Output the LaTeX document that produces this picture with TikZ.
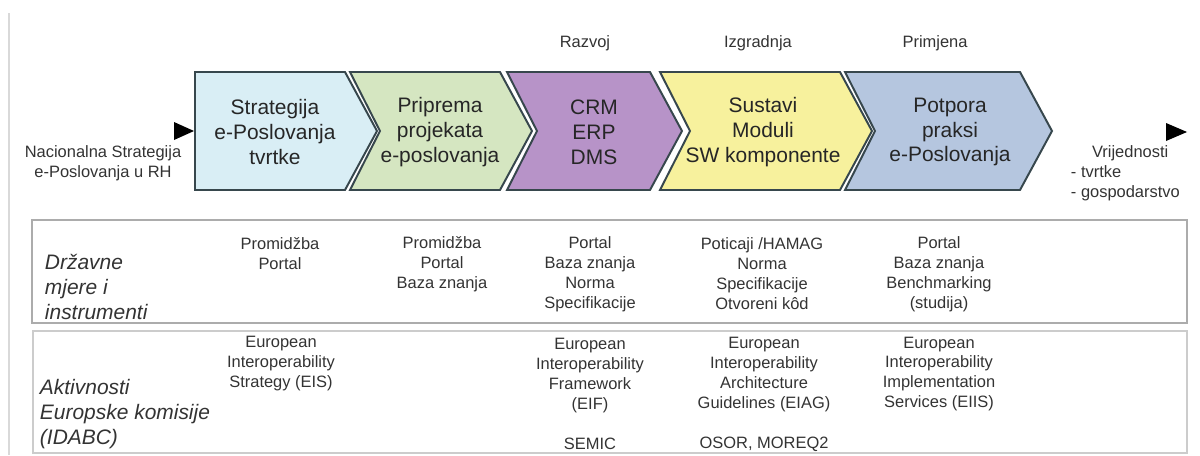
\documentclass[tikz,border=0pt]{standalone}
\usepackage{fontspec}
\setmainfont{Liberation Sans}

\definecolor{phaseblue}{HTML}{D9EEF5}
\definecolor{phasegreen}{HTML}{D5E6C1}
\definecolor{phasepurple}{HTML}{B793C8}
\definecolor{phaseyellow}{HTML}{F7F19D}
\definecolor{phasesteel}{HTML}{B5C6DF}
\definecolor{chevline}{HTML}{37474D}

\begin{document}
\begin{tikzpicture}[
    x=0.025cm, y=-0.025cm,
    chevron/.style={draw=chevline, line width=1.4pt, line join=miter, fill=#1},
    phase/.style={font=\fontsize{14.9}{17.7}\selectfont, align=center, text=black!85},
    cell/.style={font=\fontsize{11.7}{14.2}\selectfont, align=center, text=black!80},
    rowlabel/.style={font=\fontsize{14.9}{18}\selectfont\itshape, align=left, anchor=west, text=black!80},
    rowbox/.style={draw=#1, line width=1.2pt}
]

\useasboundingbox (0,0) rectangle (1200,455);

% Frame line
\draw[gray!30, line width=1.4pt] (9,13) -- (9,455);

% Phase chevrons
\draw[chevron=phaseblue] (195,72) -- (345,72) -- (377,131) -- (345,190) -- (195,190) -- cycle;
\foreach \xa/\xb/\col in {350/500/phasegreen, 507/650/phasepurple, 660/840/phaseyellow, 845/1020/phasesteel}
    \draw[chevron=\col] (\xa,72) -- (\xb,72) -- (\xb+32,131) -- (\xb,190) -- (\xa,190) -- (\xa+30,131) -- cycle;

\node[phase] (strategija) at (275,132) {Strategija\\e-Poslovanja\\tvrtke};
\node[phase] (priprema) at (440,132) {Priprema\\projekata\\e-poslovanja};
\node[phase] (razvoj) at (594,132) {CRM\\ERP\\DMS};
\node[phase] (izgradnja) at (763,132) {Sustavi\\Moduli\\SW komponente};
\node[phase] (primjena) at (950,132) {Potpora\\praksi\\e-Poslovanja};

% Phase labels above
\node[cell] (razvojlbl) at (585,43) {Razvoj};
\node[cell] (izgradnjalbl) at (758,43) {Izgradnja};
\node[cell] (primjenalbl) at (935,43) {Primjena};

% Input and output
\fill (174,122) -- (194,131) -- (174,140) -- cycle;
\fill (1166,123) -- (1187,132) -- (1166,141) -- cycle;
\node[cell] (ulaz) at (103,163) {Nacionalna Strategija\\e-Poslovanja u RH};
\node[cell, align=left, anchor=west] (izlaz) at (1066,173) {\hspace*{15pt}Vrijednosti\\- tvrtke\\- gospodarstvo};

% Table rows
\draw[rowbox=gray!65] (32,220) rectangle (1187,323);
\draw[rowbox=gray!40] (33,331) rectangle (1187,453);

\node[rowlabel] (mjere) at (40,287) {Državne\\mjere i\\instrumenti};
\node[rowlabel] (komisija) at (35,414) {Aktivnosti\\Europske komisije\\(IDABC)};

% Državne mjere
\node[cell] (mjere1) at (280,254) {Promidžba\\Portal};
\node[cell] (mjere2) at (442,264) {Promidžba\\Portal\\Baza znanja};
\node[cell] (mjere3) at (590,274) {Portal\\Baza znanja\\Norma\\Specifikacije};
\node[cell] (mjere4) at (762,274) {Poticaji /HAMAG\\Norma\\Specifikacije\\Otvoreni kôd};
\node[cell] (mjere5) at (939,274) {Portal\\Baza znanja\\Benchmarking\\(studija)};

% Aktivnosti EK
\node[cell] (ek1) at (281,364) {European\\Interoperability\\Strategy (EIS)};
\node[cell] (ek3) at (590,394) {European\\Interoperability\\Framework\\(EIF)\\[14.2pt]SEMIC};
\node[cell] (ek4) at (764,394) {European\\Interoperability\\Architecture\\Guidelines (EIAG)\\[14.2pt]OSOR, MOREQ2};
\node[cell] (ek5) at (939,374) {European\\Interoperability\\Implementation\\Services (EIIS)};

\end{tikzpicture}
\end{document}
